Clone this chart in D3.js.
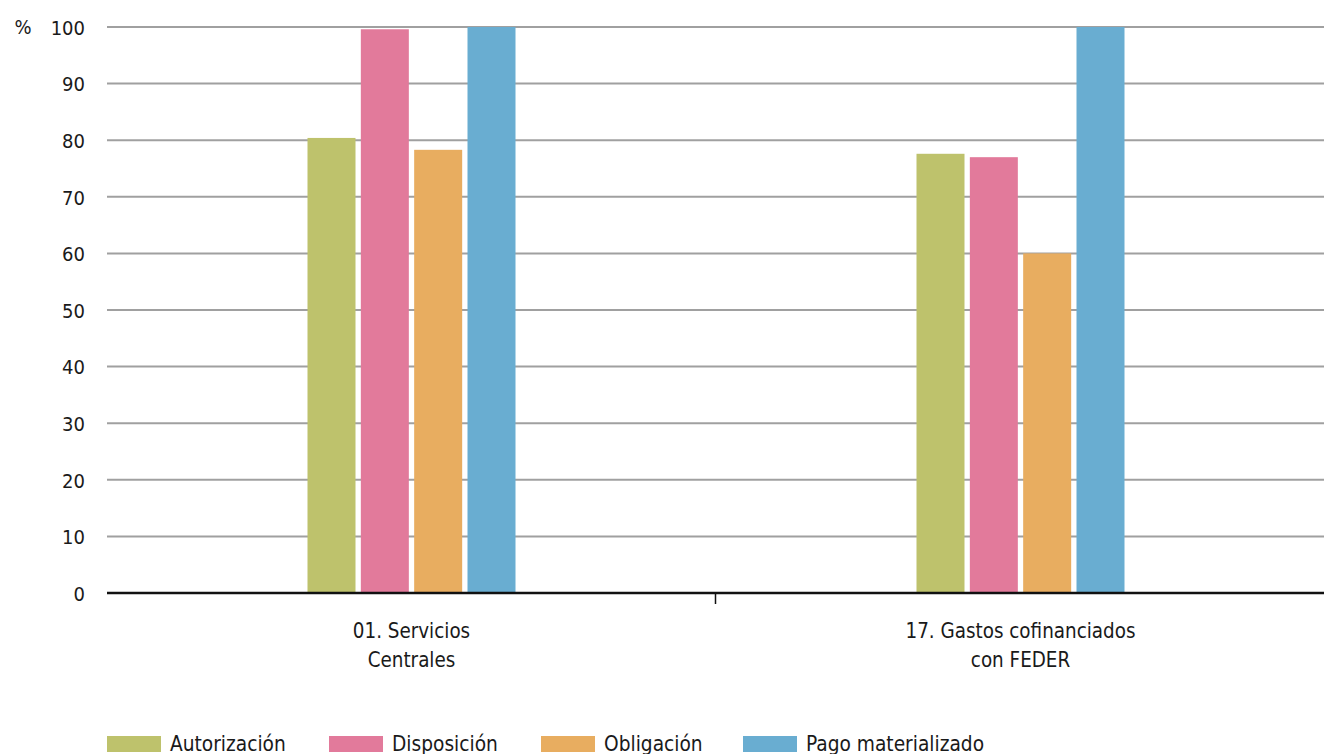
<!DOCTYPE html>
<html><head><meta charset="utf-8">
<script src="https://cdn.jsdelivr.net/npm/d3@7"></script>
<style>
html,body{margin:0;padding:0;background:#fff;}
text{font-family:"DejaVu Sans Condensed","DejaVu Sans",sans-serif;fill:#1a1a1a;}
</style></head>
<body><svg id="chart" width="1324" height="754"></svg>
<script>
const categories = ["01. Servicios|Centrales", "17. Gastos cofinanciados|con FEDER"];
const seriesNames = ["Autorización", "Disposición", "Obligación", "Pago materializado"];
const seriesColors = ["#bec26c", "#e27a9b", "#e8ad60", "#69add1"];
const autorizacion = [80.4, 77.6];
const disposicion = [99.6, 77.0];
const obligacion = [78.3, 60.0];
const pagoMaterializado = [100, 100];
const yTicks = [0, 10, 20, 30, 40, 50, 60, 70, 80, 90, 100];

const seriesValues = [autorizacion, disposicion, obligacion, pagoMaterializado];
const svg = d3.select("#chart");
const mLeft = 107, mRight = 1325, mTop = 27, mBottom = 593;

const x0 = d3.scaleBand().domain(categories).range([mLeft, mRight]);
const x1 = d3.scaleBand().domain(seriesNames).range([0, 208]).paddingInner(0.1);
const y = d3.scaleLinear().domain([0, 100]).range([mBottom, mTop]);

// gridlines
svg.append("g").selectAll("line").data(yTicks.filter(t => t > 0)).join("line")
  .attr("x1", mLeft).attr("x2", 1324)
  .attr("y1", d => y(d)).attr("y2", d => y(d))
  .attr("stroke", "#a0a0a0").attr("stroke-width", 2);

// y axis labels
const yAxis = d3.axisLeft(y).tickValues(yTicks).tickSize(0).tickPadding(0);
const ga = svg.append("g").attr("transform", `translate(85,0)`).call(yAxis);
ga.select(".domain").remove();
ga.selectAll("text").attr("dy", "0.36em").style("font-size", "20px").attr("fill", "#1a1a1a")
  .style("font-family", '"DejaVu Sans Condensed",sans-serif');

svg.append("text").attr("x", 23).attr("y", y(100)).attr("dy", "0.36em")
  .attr("text-anchor", "middle").style("font-size", "20px").text("%");

// bars
categories.forEach((c, ci) => {
  const gx0 = x0(c) + x0.bandwidth() / 2 - 104;
  seriesNames.forEach((s, si) => {
    svg.append("rect")
      .attr("x", gx0 + x1(s)).attr("width", x1.bandwidth())
      .attr("y", y(seriesValues[si][ci])).attr("height", y(0) - y(seriesValues[si][ci]))
      .attr("fill", seriesColors[si]);
  });
});

// baseline and x axis
const xAxis = d3.axisBottom(x0).tickSize(0).tickFormat(() => "");
const gxa = svg.append("g").attr("transform", `translate(0,${mBottom})`).call(xAxis);
gxa.select(".domain").attr("stroke", "#111").attr("stroke-width", 2.5)
  .attr("d", `M${mLeft},0H1324`);
svg.append("line").attr("x1", x0.step() + mLeft - 0.5).attr("x2", x0.step() + mLeft - 0.5)
  .attr("y1", mBottom).attr("y2", mBottom + 11).attr("stroke", "#111").attr("stroke-width", 1.5);

categories.forEach(c => {
  const cx = x0(c) + x0.bandwidth() / 2;
  const lines = c.split("|");
  lines.forEach((l, i) => {
    svg.append("text").attr("x", cx).attr("y", 638 + i * 29)
      .attr("text-anchor", "middle").style("font-size", "20.4px").text(l);
  });
});

// legend
const legendX = [107, 329, 541, 743];
seriesNames.forEach((s, i) => {
  const g = svg.append("g").attr("transform", `translate(${legendX[i]},736)`);
  g.append("rect").attr("width", 54).attr("height", 16).attr("fill", seriesColors[i]);
  g.append("text").attr("x", 63).attr("y", 15)
    .style("font-size", "20.7px").text(s);
});
</script></body></html>
